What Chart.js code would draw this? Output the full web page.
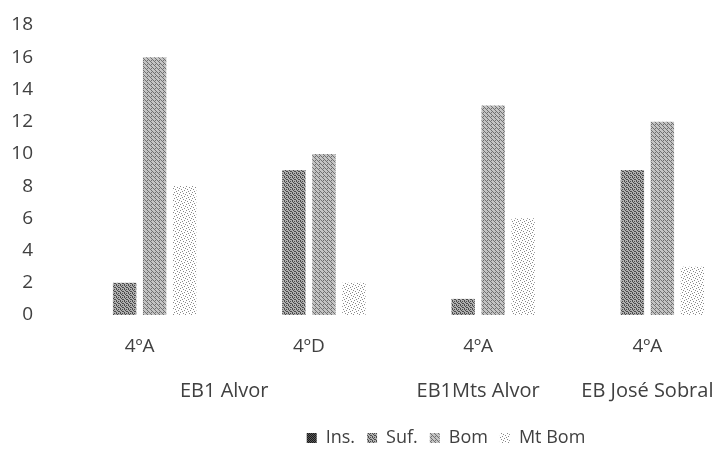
<!DOCTYPE html>
<html>
<head>
<meta charset="utf-8">
<script src="https://cdn.jsdelivr.net/npm/chart.js@4"></script>
<style>
  html, body { margin: 0; padding: 0; background: #fff; }
  #wrap { width: 720px; height: 453px; overflow: hidden; position: relative; }
  #box { width: 892px; height: 453px; }
</style>
</head>
<body>
<div id="wrap"><div id="box"><canvas id="chartBar"></canvas></div></div>
<script>
const categories = ["4ºA", "4ºD", "4ºA", "4ºA"];
const schools = ["EB1 Alvor", "EB1Mts Alvor", "EB José Sobral"];
const schoolFirst = [0, 2, 3];
const schoolLast = [1, 2, 3];
const seriesNames = ["Ins.", "Suf.", "Bom", "Mt Bom"];
const ins = [0, 0, 0, 0];
const suf = [2, 9, 1, 9];
const bom = [16, 10, 13, 12];
const mtBom = [8, 2, 6, 3];
const yTicks = [0, 2, 4, 6, 8, 10, 12, 14, 16, 18];

const FONT = "'Open Sans', Lato, sans-serif";
const TEXT = "#404040";

// small dithered fills like the printed original
function makePattern(size, bg, dot, cells) {
  const c = document.createElement("canvas");
  c.width = size;
  c.height = size;
  const g = c.getContext("2d");
  g.fillStyle = bg;
  g.fillRect(0, 0, size, size);
  g.fillStyle = dot;
  cells.forEach(p => g.fillRect(p[0], p[1], 1, 1));
  return g.createPattern(c, "repeat");
}

const fills = [
  makePattern(4, "#5a5a5a", "#1a1a1a", [[0, 0], [2, 0], [1, 1], [3, 1], [0, 2], [2, 2], [1, 3], [3, 3]]),
  makePattern(4, "#b0b0b0", "#4a4a4a", [[0, 0], [2, 1], [1, 2], [3, 3], [2, 3], [0, 1]]),
  makePattern(4, "#c4c4c4", "#707070", [[1, 0], [3, 2], [0, 3], [2, 1], [3, 0]]),
  makePattern(6, "#ffffff", "#8a8a8a", [[0, 0], [3, 1], [1, 3], [4, 4], [5, 2], [2, 5]]),
];

const schoolLabels = {
  id: "schoolLabels",
  afterDraw(chart) {
    const x = chart.scales.x;
    const ctx = chart.ctx;
    ctx.save();
    ctx.font = "20px " + FONT;
    ctx.fillStyle = TEXT;
    ctx.textAlign = "center";
    ctx.textBaseline = "middle";
    schools.forEach((s, i) => {
      const cx = (x.getPixelForValue(schoolFirst[i]) + x.getPixelForValue(schoolLast[i])) / 2;
      ctx.fillText(s, cx, 391);
    });
    ctx.restore();
  },
};

const dataBar = {
  labels: categories,
  datasets: [ins, suf, bom, mtBom].map((d, i) => ({
    label: seriesNames[i],
    data: d,
    backgroundColor: fills[i],
    borderWidth: 0,
    categoryPercentage: 0.709,
    barPercentage: 0.78,
  })),
};

const configBar = {
  type: "bar",
  data: dataBar,
  plugins: [schoolLabels],
  options: {
    responsive: true,
    maintainAspectRatio: false,
    animation: false,
    layout: { padding: { top: 25, left: 0, right: 0, bottom: -4 } },
    plugins: {
      tooltip: { enabled: false },
      legend: {
        position: "bottom",
        labels: {
          boxWidth: 10,
          boxHeight: 10,
          padding: 12,
          color: TEXT,
          font: { family: FONT, size: 18 },
        },
      },
    },
    scales: {
      x: {
        grid: { display: false, drawTicks: false },
        border: { display: false },
        ticks: { color: TEXT, font: { family: FONT, size: 19 }, padding: 20, maxRotation: 0 },
        afterFit: a => { a.height = 102; },
      },
      y: {
        min: 0,
        max: 18,
        afterBuildTicks: axis => { axis.ticks = yTicks.map(v => ({ value: v })); },
        grid: { display: false, drawTicks: false },
        border: { display: false },
        ticks: { color: TEXT, font: { family: FONT, size: 19 }, padding: 22 },
        afterFit: a => { a.width = 55; a.paddingTop = 0; a.paddingBottom = 0; },
      },
      spacer: {
        type: "linear",
        position: "right",
        grid: { display: false, drawTicks: false },
        border: { display: false },
        ticks: { display: false },
        afterFit: a => { a.width = 160; },
      },
    },
  },
};

var chartBar = new Chart(document.getElementById("chartBar"), configBar);
</script>
</body>
</html>
